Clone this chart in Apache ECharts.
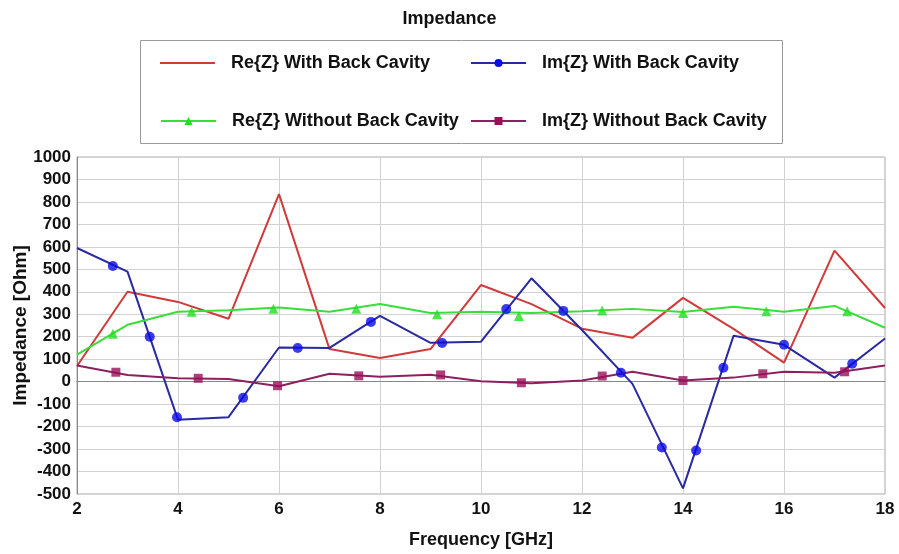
<!DOCTYPE html>
<html><head><meta charset="utf-8">
<script src="https://cdn.jsdelivr.net/npm/echarts@6/dist/echarts.min.js"></script>
<style>html,body{margin:0;padding:0;background:#fff}#c{width:899px;height:554px}</style>
</head><body><div id="c"></div>
<script>
// ---- data ----
const freqGHz = [2,3,4,5,6,7,8,9,10,11,12,13,14,15,16,17,18];
const reWithCavity = [70,400,355,280,835,145,105,145,430,345,236,195,373,235,85,583,328];
const imWithCavity = [595,490,-170,-158,152,150,293,173,178,460,230,-10,-475,204,164,18,192];
const reWithoutCavity = [120,253,311,318,330,311,346,306,311,306,313,324,310,333,311,337,240];
const imWithoutCavity = [72,30,15,12,-20,35,22,31,2,-7,5,44,5,18,44,40,72];

const imWithMarkFreq = [2.71,3.44,3.98,5.29,6.37,7.82,9.23,10.5,11.63,12.77,13.58,14.26,14.8,16,17.35];
const imWithMarkVal  = [515,200,-158,-72,150,266,172,323,315,40,-293,-306,62,164,80];
const reWithoutMarkFreq = [2.71,4.27,5.89,7.53,9.13,10.75,12.4,14.0,15.65,17.25];
const reWithoutMarkVal  = [213,311,324,324,300,292,317,306,313,313];
const imWithoutMarkFreq = [2.77,4.4,5.97,7.58,9.2,10.8,12.4,14.0,15.58,17.2];
const imWithoutMarkVal  = [42,15,-18,26,30,-5,25,5,35,44];

const seriesNames = ['Re{Z} With Back Cavity','Im{Z} With Back Cavity','Re{Z} Without Back Cavity','Im{Z} Without Back Cavity'];
const titleText = 'Impedance';
const xName = 'Frequency [GHz]';
const yName = 'Impedance [Ohm]';

// ---- build ----
const zip = (xs, ys) => xs.map((x, i) => [x, ys[i]]);
const FONT = '"Liberation Sans", Arial, sans-serif';
const colors = {
  re1: '#d03a3a', im1: '#2a2aa0', im1m: '#0a0ae6',
  re2: '#3ade3a', re2m: '#22dd22', im2: '#8c2060', im2m: '#99105a'
};

function lineSeries(name, data, color, symbol, mColor) {
  return {
    name, type: 'line', data, symbol, symbolSize: 9, showSymbol: false,
    lineStyle: { color, width: 2 }, itemStyle: { color: mColor || color },
    z: 3, animation: false
  };
}
function markSeries(name, data, color, symbol, size) {
  return {
    name: name + ' markers', type: 'scatter', data, symbol, symbolSize: size,
    itemStyle: { color }, z: 4, animation: false
  };
}

function legendAt(name, left, top, icon) {
  return {
    data: [icon ? { name, icon } : name], left, top, padding: 0,
    itemWidth: 55, itemHeight: icon ? 2 : 10,
    textStyle: { fontFamily: FONT, fontSize: 18, fontWeight: 'bold', color: '#111', padding: [0, 0, 0, 11] },
    selectedMode: false
  };
}

const chart = echarts.init(document.getElementById('c'), null, { renderer: 'canvas' });
chart.setOption({
  animation: false,
  backgroundColor: '#fff',
  title: {
    text: titleText, left: 'center', top: 5,
    textStyle: { fontFamily: FONT, fontSize: 18, fontWeight: 'bold', color: '#111' }
  },
  graphic: [{
    type: 'rect', left: 138, top: 38, shape: { width: 642, height: 103 },
    style: { fill: 'none', stroke: '#999', lineWidth: 1 }, z: 0
  }],
  legend: [
    legendAt(seriesNames[0], 160, 54, 'rect'),
    legendAt(seriesNames[1], 470, 54),
    legendAt(seriesNames[2], 160, 112),
    legendAt(seriesNames[3], 470, 112)
  ],
  grid: { left: 77, right: 14, top: 157, bottom: 59, show: true, borderColor: '#aaa', borderWidth: 1 },
  xAxis: {
    type: 'value', min: 2, max: 18, interval: 2,
    name: xName, nameLocation: 'middle', nameGap: 37, nameMoveOverlap: false,
    nameTextStyle: { fontFamily: FONT, fontSize: 18, fontWeight: 'bold', color: '#111' },
    axisLine: { lineStyle: { color: '#888', width: 1 } },
    axisTick: { show: false },
    axisLabel: { fontFamily: FONT, fontSize: 17, fontWeight: 'bold', color: '#111', margin: 7 },
    splitLine: { show: true, lineStyle: { color: '#d2d2d2', width: 1 } }
  },
  yAxis: {
    type: 'value', min: -500, max: 1000, interval: 100,
    name: yName, nameLocation: 'middle', nameGap: 47, nameMoveOverlap: false,
    nameTextStyle: { fontFamily: FONT, fontSize: 19, fontWeight: 'bold', color: '#111' },
    axisLine: { show: true, lineStyle: { color: '#888', width: 1 } },
    axisTick: { show: false },
    axisLabel: { fontFamily: FONT, fontSize: 17, fontWeight: 'bold', color: '#111', margin: 6,
      formatter: v => String(v) },
    splitLine: { show: true, lineStyle: { color: '#d2d2d2', width: 1 } }
  },
  series: [
    lineSeries(seriesNames[0], zip(freqGHz, reWithCavity), colors.re1, 'none'),
    lineSeries(seriesNames[1], zip(freqGHz, imWithCavity), colors.im1, 'circle', colors.im1m),
    lineSeries(seriesNames[2], zip(freqGHz, reWithoutCavity), colors.re2, 'triangle', colors.re2m),
    lineSeries(seriesNames[3], zip(freqGHz, imWithoutCavity), colors.im2, 'rect', colors.im2m),
    markSeries(seriesNames[1], zip(imWithMarkFreq, imWithMarkVal), colors.im1m, 'circle', 10),
    markSeries(seriesNames[2], zip(reWithoutMarkFreq, reWithoutMarkVal), colors.re2m, 'triangle', 10),
    markSeries(seriesNames[3], zip(imWithoutMarkFreq, imWithoutMarkVal), colors.im2m, 'rect', 9)
  ]
});
</script></body></html>
